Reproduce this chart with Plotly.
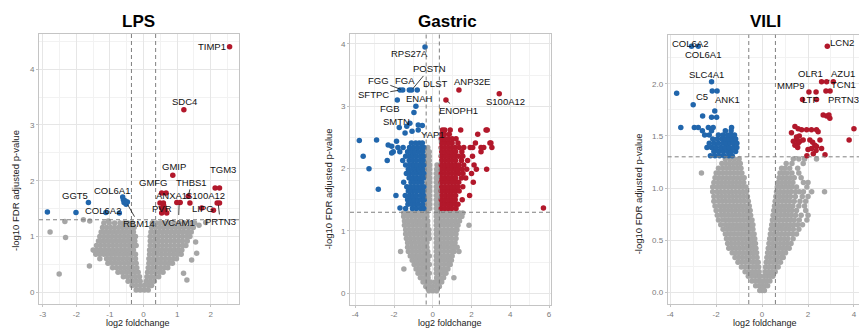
import plotly.graph_objects as go

# ===================== DATA =====================
# ---- LPS ----
lps_grey_rows = [
    (0.04, [-0.22, -0.1, 0.02, 0.14]),
    (0.12, [-0.34, -0.22, -0.1, 0.02, 0.14, 0.24]),
    (0.20, [-0.46, -0.34, -0.22, -0.1, 0.08, 0.2, 0.32]),
    (0.28, [-0.6, -0.48, -0.36, -0.24, -0.12, 0.1, 0.22, 0.34, 0.45]),
    (0.36, [-0.76, -0.64, -0.52, -0.4, -0.28, -0.16, 0.12, 0.24, 0.36, 0.48, 0.58]),
    (0.44, [-0.92, -0.8, -0.68, -0.56, -0.44, -0.32, -0.2, 0.14, 0.26, 0.38, 0.5, 0.62, 0.72]),
    (0.52, [-1.06, -0.94, -0.82, -0.7, -0.58, -0.46, -0.34, -0.22, 0.16, 0.28, 0.4, 0.52, 0.64, 0.76, 0.86]),
    (0.60, [-1.3, -1.1, -0.98, -0.86, -0.74, -0.62, -0.5, -0.38, -0.24, 0.16, 0.28, 0.4, 0.52, 0.64, 0.76, 0.88, 0.98]),
    (0.68, [-1.42, -1.3, -1.18, -1.06, -0.94, -0.82, -0.7, -0.58, -0.46, -0.34, -0.24, 0.18, 0.3, 0.42, 0.54, 0.66, 0.78, 0.9, 1.02, 1.12]),
    (0.76, [-1.5, -1.38, -1.26, -1.14, -1.02, -0.9, -0.78, -0.66, -0.54, -0.42, -0.3, 0.18, 0.3, 0.42, 0.54, 0.66, 0.78, 0.9, 1.02, 1.14]),
    (0.84, [-1.4, -1.28, -1.16, -1.04, -0.92, -0.8, -0.68, -0.56, -0.44, -0.32, -0.22, 0.2, 0.32, 0.44, 0.56, 0.68, 0.8, 0.92, 1.04, 1.16, 1.26]),
    (0.92, [-1.34, -1.22, -1.1, -0.98, -0.86, -0.74, -0.62, -0.5, -0.38, -0.26, 0.2, 0.32, 0.44, 0.56, 0.68, 0.8, 0.92, 1.04, 1.16, 1.3]),
    (1.00, [-1.3, -1.18, -1.06, -0.94, -0.82, -0.7, -0.58, -0.46, -0.34, -0.24, 0.2, 0.32, 0.44, 0.56, 0.68, 0.8, 0.92, 1.04, 1.16, 1.28, 1.38]),
    (1.08, [-1.26, -1.14, -1.02, -0.9, -0.78, -0.66, -0.54, -0.42, -0.3, 0.22, 0.34, 0.46, 0.58, 0.7, 0.82, 0.94, 1.06, 1.18, 1.3, 1.42]),
    (1.16, [-1.22, -1.1, -0.98, -0.86, -0.74, -0.62, -0.5, -0.38, -0.28, 0.24, 0.36, 0.48, 0.6, 0.72, 0.84, 0.96, 1.08, 1.2, 1.34, 1.48]),
    (1.24, [-1.18, -1.02, -0.86, -0.7, -0.58, -0.46, -0.34, 0.26, 0.38, 0.5, 0.62, 0.74, 0.9, 1.06, 1.22, 1.4, 1.52]),
]
lps_grey_extra_x = [-2.78, -2.32, -2.51, -2.34, -1.79, -1.61, -1.44, -1.05, -1.6, 1.29, 1.43, 1.58, 1.19, 1.65, 1.85, 1.55]
lps_grey_extra_y = [1.08, 0.98, 0.33, 1.27, 1.30, 0.47, 0.73, 1.28, 1.28, 0.22, 0.58, 0.70, 0.34, 1.20, 1.25, 0.90]
lps_blue_x = [-2.86, -2.01, -1.64, -1.12, -0.72, -0.62, -0.60, -0.58, -0.52, -0.48, -0.55]
lps_blue_y = [1.44, 1.43, 1.61, 1.43, 1.42, 1.71, 1.66, 1.61, 1.58, 1.62, 1.64]
lps_red_x = [2.56, 1.20, 0.87, 2.13, 2.26, 1.33, 1.38, 0.54, 0.67, 0.49, 0.59, 0.54, 0.64, 0.54, 0.69, 0.60,
             0.99, 1.09, 1.73, 2.08, 2.19, 2.26]
lps_red_y = [4.40, 3.27, 2.10, 1.87, 1.87, 1.72, 1.60, 1.78, 1.78, 1.60, 1.60, 1.51, 1.48, 1.42, 1.42, 1.55,
             1.61, 1.61, 1.51, 1.47, 1.60, 1.60]
lps_labels = ['TIMP1', 'SDC4', 'GMIP', 'TGM3', 'THBS1', 'GMFG', 'ANXA1', 'S100A12', 'COL6A1', 'GGT5',
              'COL6A2', 'RBM14', 'PVR', 'VCAM1', 'LIPG', 'PRTN3']

# ---- Gastric ----
gas_grey_rows = [
    (0.04, [-0.2, 0.0, 0.2]),
    (0.11, [-0.36, -0.18, 0.0, 0.18, 0.34]),
    (0.18, [-0.5, -0.3, -0.12, 0.12, 0.3, 0.46]),
    (0.25, [-0.64, -0.44, -0.24, 0.2, 0.4, 0.56, 1.09]),
    (0.32, [-0.76, -0.56, -0.36, -0.18, 0.18, 0.36, 0.56, 0.68]),
    (0.39, [-1.49, -0.86, -0.66, -0.46, -0.26, 0.18, 0.38, 0.58, 0.78]),
    (0.46, [-0.96, -0.76, -0.56, -0.36, -0.18, 0.18, 0.38, 0.58, 0.78, 0.9]),
    (0.53, [-1.06, -0.86, -0.66, -0.46, -0.26, 0.18, 0.38, 0.58, 0.78, 0.96]),
    (0.60, [-1.16, -0.96, -0.76, -0.56, -0.36, -0.18, 0.18, 0.38, 0.58, 0.78, 1.0]),
    (0.67, [-1.66, -1.26, -1.06, -0.86, -0.66, -0.46, -0.26, 0.18, 0.38, 0.58, 0.78, 0.98, 1.1, 1.35]),
    (0.74, [-1.3, -1.1, -0.9, -0.7, -0.5, -0.3, 0.18, 0.38, 0.58, 0.78, 0.98, 1.15, 1.26]),
    (0.81, [-1.3, -1.1, -0.9, -0.7, -0.5, -0.3, 0.18, 0.38, 0.58, 0.78, 0.98, 1.15]),
    (0.88, [-1.36, -1.16, -0.96, -0.76, -0.56, -0.36, -0.18, 0.18, 0.38, 0.58, 0.78, 0.98, 1.2]),
    (0.95, [-1.4, -1.2, -1.0, -0.8, -0.6, -0.4, -0.2, 0.18, 0.38, 0.58, 0.78, 0.98, 1.2]),
    (1.02, [-1.4, -1.2, -1.0, -0.8, -0.6, -0.4, -0.2, 0.18, 0.38, 0.58, 0.78, 0.98, 1.18, 1.25]),
    (1.09, [-1.46, -1.26, -1.06, -0.86, -0.66, -0.46, -0.26, 0.18, 0.38, 0.58, 0.78, 0.98, 1.18, 1.3, 1.87]),
    (1.16, [-1.46, -1.26, -1.06, -0.86, -0.66, -0.46, -0.26, 0.18, 0.38, 0.58, 0.78, 0.98, 1.18, 1.38]),
    (1.23, [-1.5, -1.3, -1.1, -0.9, -0.7, -0.5, -0.3, 0.18, 0.38, 0.58, 0.78, 0.98, 1.18, 1.38, 1.5]),
    (1.29, [-1.5, -1.3, -1.1, -0.9, -0.7, -0.5, -0.3, 0.18, 0.38, 0.58, 0.78, 0.98, 1.18, 1.38, 1.55]),
    (1.36, [-0.3, -0.16, 0.18, 0.3]),
    (1.43, [-0.3, -0.16, 0.18, 0.3]),
    (1.50, [-0.3, -0.16, 0.18, 0.3]),
    (1.57, [-0.3, -0.16, 0.18, 0.3]),
    (1.64, [-0.3, -0.16, 0.18, 0.3]),
    (1.71, [-0.3, -0.16, 0.18, 0.3]),
    (1.78, [-0.3, -0.16, 0.18, 0.3]),
    (1.85, [-0.3, -0.16, 0.18, 0.3]),
    (1.92, [-0.3, -0.16, 0.18, 0.3]),
    (1.99, [-0.3, -0.16, 0.2, 0.3]),
    (2.06, [-0.3, -0.16, 0.22]),
    (2.13, [-0.3, -0.18]),
    (2.20, [-0.28, -0.18]),
    (2.27, [-0.28, -0.18]),
    (2.34, [-0.26]),
]
gas_blue_rows = [
    (1.36, [-1.4, -1.05, -0.85, -0.62, -0.46]),
    (1.43, [-1.28, -1.1, -0.92, -0.74, -0.52]),
    (1.50, [-1.3, -1.12, -0.94, -0.76, -0.58, -0.44]),
    (1.57, [-1.9, -1.42, -1.2, -1.02, -0.84, -0.62, -0.47]),
    (1.64, [-1.26, -1.08, -0.9, -0.7, -0.5]),
    (1.71, [-1.34, -1.16, -0.98, -0.8, -0.62, -0.46]),
    (1.78, [-1.5, -1.12, -0.94, -0.76, -0.56]),
    (1.85, [-1.22, -1.04, -0.86, -0.68, -0.48]),
    (1.92, [-1.36, -1.18, -1.0, -0.82, -0.62, -0.46]),
    (1.99, [-1.26, -1.06, -0.88, -0.72, -0.52]),
    (2.06, [-1.4, -1.16, -0.98, -0.8, -0.62, -0.46]),
    (2.13, [-2.35, -1.55, -1.22, -1.04, -0.86, -0.66, -0.5]),
    (2.20, [-1.4, -1.2, -1.02, -0.84, -0.64, -0.47]),
    (2.27, [-2.04, -1.7, -1.3, -1.1, -0.92, -0.72, -0.52]),
    (2.34, [-1.8, -1.53, -1.2, -1.0, -0.8, -0.6, -0.46]),
    (2.41, [-1.1, -0.88, -0.7, -0.54]),
]
gas_blue_extra_x = [-3.79, -2.9, -3.59, -3.29, -2.81, -2.3, -2.12, -2.12, -1.69, -1.83, -1.69, -1.55, -1.21,
                    -1.09, -0.8, -0.4, -0.87, -0.97, -1.73, -1.34, -1.18, -0.75, -0.54, -1.43, -1.07, -0.75, -1.87]
gas_blue_extra_y = [2.45, 2.46, 2.2, 2.0, 1.67, 2.38, 2.36, 2.25, 1.37, 3.1, 3.26, 3.26, 3.26,
                    3.26, 3.26, 3.95, 3.0, 2.9, 2.66, 2.68, 2.73, 2.7, 2.69, 2.57, 2.6, 2.62, 2.44]
gas_red_rows = [
    (1.36, [0.44, 0.62, 0.8, 0.98, 1.2]),
    (1.43, [0.46, 0.64, 0.82, 0.98, 1.14, 1.3]),
    (1.50, [0.44, 0.62, 0.8, 0.98, 1.16, 1.52]),
    (1.57, [0.48, 0.66, 0.84, 1.0, 1.18, 1.9]),
    (1.64, [0.44, 0.62, 0.8, 0.98, 1.16, 1.36]),
    (1.71, [0.46, 0.64, 0.82, 0.98, 1.14, 1.3, 1.55]),
    (1.78, [0.44, 0.62, 0.8, 0.98, 1.16, 1.34, 2.09]),
    (1.85, [0.46, 0.64, 0.82, 1.0, 1.18, 1.48, 1.7]),
    (1.92, [0.44, 0.62, 0.8, 0.98, 1.16, 1.34, 1.56, 2.0]),
    (1.99, [0.46, 0.64, 0.82, 1.0, 1.18, 1.3, 1.5, 1.75, 2.25, 2.78]),
    (2.06, [0.44, 0.62, 0.8, 0.98, 1.16, 1.34, 1.6, 2.13]),
    (2.13, [0.46, 0.64, 0.82, 1.0, 1.18, 1.48, 1.8]),
    (2.20, [0.44, 0.62, 0.8, 0.98, 1.16, 1.34, 1.55, 2.05]),
    (2.27, [0.46, 0.64, 0.82, 1.0, 1.18, 1.5, 2.49]),
    (2.34, [0.44, 0.62, 0.8, 0.98, 1.16, 1.36, 1.6, 1.93, 2.06, 2.49, 2.63, 3.05]),
    (2.41, [0.46, 0.64, 0.82, 1.0, 1.3, 2.2, 2.95, 3.0]),
    (2.48, [0.44, 0.62, 0.8, 1.0, 1.2]),
    (2.55, [0.46, 0.6, 0.85, 2.32]),
    (2.62, [0.5, 0.62, 0.9, 1.44, 2.75, 2.81]),
]
gas_red_extra_x = [1.35, 3.43, 0.68, 5.71]
gas_red_extra_y = [3.26, 3.20, 3.10, 1.37]
gas_labels = ['RPS27A', 'POSTN', 'FGG', 'FGA', 'DLST', 'ANP32E', 'SFTPC', 'ENAH', 'S100A12', 'ENOPH1',
              'FGB', 'SMTN', 'YAP1']

# ---- VILI ----
vili_grey_rows = [
    (0.02, [-0.1, 0.0, 0.1]),
    (0.065, [-0.28, -0.14, -0.03, 0.04, 0.14, 0.24]),
    (0.11, [-0.44, -0.3, -0.16, -0.06, 0.07, 0.2, 0.34]),
    (0.155, [-0.6, -0.45, -0.3, -0.16, -0.08, 0.1, 0.22, 0.35, 0.47]),
    (0.2, [-0.74, -0.58, -0.42, -0.28, -0.13, 0.13, 0.28, 0.43, 0.57]),
    (0.245, [-0.9, -0.74, -0.58, -0.42, -0.28, -0.15, 0.15, 0.3, 0.45, 0.6, 0.7]),
    (0.29, [-1.05, -0.88, -0.72, -0.56, -0.4, -0.26, -0.17, 0.18, 0.32, 0.48, 0.64, 0.8]),
    (0.335, [-1.18, -1.02, -0.86, -0.7, -0.54, -0.38, -0.22, 0.21, 0.36, 0.52, 0.68, 0.84, 0.92]),
    (0.38, [-1.3, -1.14, -0.98, -0.82, -0.66, -0.5, -0.36, -0.24, 0.24, 0.4, 0.56, 0.72, 0.88, 1.02]),
    (0.425, [-1.45, -1.3, -1.14, -0.98, -0.82, -0.66, -0.5, -0.38, -0.27, 0.27, 0.42, 0.58, 0.74, 0.9, 1.05, 1.18]),
    (0.47, [-1.5, -1.34, -1.18, -1.02, -0.86, -0.7, -0.54, -0.4, -0.29, 0.3, 0.46, 0.62, 0.78, 0.94, 1.1, 1.26]),
    (0.515, [-1.55, -1.38, -1.22, -1.06, -0.9, -0.74, -0.58, -0.44, -0.32, 0.33, 0.48, 0.64, 0.8, 0.96, 1.12, 1.35]),
    (0.56, [-1.6, -1.44, -1.28, -1.12, -0.96, -0.8, -0.64, -0.48, -0.35, 0.36, 0.52, 0.68, 0.84, 1.0, 1.16, 1.32, 1.5]),
    (0.605, [-1.7, -1.52, -1.36, -1.2, -1.04, -0.88, -0.72, -0.56, -0.4, 0.39, 0.54, 0.7, 0.86, 1.02, 1.18, 1.36, 1.6]),
    (0.65, [-1.8, -1.6, -1.44, -1.28, -1.12, -0.96, -0.8, -0.64, -0.5, -0.4, 0.42, 0.58, 0.74, 0.9, 1.06, 1.22, 1.38, 1.55, 1.76]),
    (0.695, [-1.9, -1.7, -1.54, -1.38, -1.22, -1.06, -0.9, -0.74, -0.58, -0.44, 0.45, 0.6, 0.76, 0.92, 1.08, 1.24, 1.4, 1.62, 1.95]),
    (0.74, [-1.95, -1.78, -1.62, -1.46, -1.3, -1.14, -0.98, -0.82, -0.66, -0.5, 0.48, 0.64, 0.8, 0.96, 1.12, 1.28, 1.46, 1.7, 2.0]),
    (0.785, [-2.0, -1.8, -1.64, -1.48, -1.32, -1.16, -1.0, -0.84, -0.68, -0.52, 0.51, 0.66, 0.82, 0.98, 1.14, 1.3, 1.5, 1.9]),
    (0.83, [-2.05, -1.86, -1.7, -1.54, -1.38, -1.22, -1.06, -0.9, -0.74, -0.56, 0.54, 0.7, 0.86, 1.02, 1.18, 1.34, 1.6, 1.85]),
    (0.875, [-2.1, -1.9, -1.74, -1.58, -1.42, -1.26, -1.1, -0.94, -0.78, -0.6, 0.57, 0.72, 0.88, 1.04, 1.2, 1.4, 1.65, 1.9]),
    (0.92, [-2.1, -1.92, -1.76, -1.6, -1.44, -1.28, -1.12, -0.96, -0.8, -0.64, 0.6, 0.76, 0.92, 1.08, 1.24, 1.45, 1.75, 2.0]),
    (0.965, [-2.15, -1.96, -1.8, -1.64, -1.48, -1.32, -1.16, -1.0, -0.84, -0.68, 0.63, 0.78, 0.94, 1.1, 1.26, 1.45, 1.62, 1.8, 2.16, 2.72]),
    (1.01, [-2.15, -1.96, -1.8, -1.64, -1.48, -1.32, -1.16, -1.0, -0.84, -0.7, 0.66, 0.82, 0.98, 1.14, 1.3, 1.5, 1.95]),
    (1.055, [-2.1, -1.92, -1.76, -1.6, -1.44, -1.28, -1.12, -0.96, -0.8, 0.7, 0.86, 1.02, 1.18, 1.34, 1.8, 2.0]),
    (1.1, [-2.05, -1.88, -1.72, -1.56, -1.4, -1.24, -1.08, -0.92, -0.78, 0.74, 0.9, 1.06, 1.22, 1.4, 1.7]),
    (1.145, [-2.64, -2.0, -1.84, -1.68, -1.52, -1.36, -1.2, -1.04, -0.88, 0.78, 0.94, 1.1, 1.3, 1.6]),
    (1.19, [-1.9, -1.72, -1.56, -1.4, -1.24, -1.08, -0.92, 0.85, 1.0, 1.2, 1.55]),
    (1.235, [-1.75, -1.58, -1.42, -1.26, -1.1, -0.95, 1.05, 1.3, 1.79]),
    (1.28, [-1.6, -1.4, -1.2, -1.0, 1.36, 1.6, 1.85, 2.37]),
]
vili_blue_rows = [
    (1.31, [-2.25, -2.05, -1.85, -1.65, -1.45, -1.3]),
    (1.35, [-2.1, -1.9, -1.7, -1.5, -1.35, -1.15]),
    (1.39, [-2.4, -2.2, -2.0, -1.8, -1.6, -1.45, -1.25, -1.1]),
    (1.43, [-2.3, -2.1, -1.9, -1.7, -1.55, -1.4, -1.25, -1.1]),
    (1.47, [-2.15, -1.95, -1.75, -1.6, -1.45, -1.3, -1.15]),
    (1.51, [-2.5, -2.3, -1.9, -1.7, -1.5, -1.35, -1.2]),
    (1.55, [-2.6, -2.2, -1.6, -1.35]),
    (1.58, [-3.54, -2.95, -2.78, -2.34, -2.13, -1.33]),
]
vili_blue_extra_x = [-3.07, -2.78, -2.2, -3.72, -2.17, -1.96, -3.0, -2.06, -2.59, -2.2, -1.98]
vili_blue_extra_y = [2.36, 2.36, 2.02, 1.91, 1.93, 1.93, 1.80, 1.74, 1.69, 1.68, 1.68]
vili_red_x = [1.43, 1.57, 1.72, 1.94, 2.15, 2.37, 2.44, 1.28, 1.5, 1.65, 1.79, 2.08, 2.52, 2.3, 2.15, 2.37,
              2.59, 2.74, 1.57, 1.43, 2.0, 2.23, 1.5, 1.36, 1.55, 2.2, 1.95, 2.35, 1.62,
              2.84, 2.59, 2.81, 3.10, 2.04, 2.35, 2.78, 2.96, 1.76, 2.37, 2.81, 2.95, 2.66, 2.91, 3.79, 4.0]
vili_red_y = [1.59, 1.57, 1.56, 1.56, 1.56, 1.56, 1.54, 1.53, 1.46, 1.45, 1.46, 1.46, 1.46, 1.41, 1.38, 1.40,
              1.38, 1.32, 1.43, 1.41, 1.37, 1.33, 1.49, 1.45, 1.39, 1.44, 1.31, 1.36, 1.50,
              2.36, 2.02, 2.02, 2.02, 1.92, 1.92, 1.93, 1.93, 1.85, 1.85, 1.69, 1.67, 1.70, 1.70, 1.46, 1.57]
vili_labels = ['COL6A2', 'COL6A1', 'SLC4A1', 'C5', 'ANK1', 'LCN2', 'OLR1', 'AZU1', 'MMP9', 'TCN1', 'LTF', 'PRTN3']

# tick labels
lps_xticks = [-3, -2, -1, 0, 1, 2]
lps_xtick_text = ['-3', '-2', '-1', '0', '1', '2']
lps_yticks = [0, 1, 2, 3, 4]
gas_xticks = [-4, -2, 0, 2, 4, 6]
gas_xtick_text = ['-4', '-2', '0', '2', '4', '6']
gas_yticks = [0, 1, 2, 3, 4]
vili_xticks = [-4, -2, 0, 2, 4]
vili_xtick_text = ['-4', '-2', '0', '2', '4']
vili_yticks = [0.0, 0.5, 1.0, 1.5, 2.0]
vili_ytick_text = ['0.0', '0.5', '1.0', '1.5', '2.0']

# thresholds
lps_fc_cut = 0.36
gas_fc_cut = 0.34
vili_fc_cut = 0.58
p_cut = 1.3


def expand(rows):
    xs, ys = [], []
    for yv, row in rows:
        for xv in row:
            xs.append(xv)
            ys.append(yv)
    return xs, ys


# ===================== STYLE / LAYOUT =====================
GREY = '#a6a6a6'
BLUE = '#2166ac'
RED = '#b2182b'
MS = 5.5
FONT = 'Liberation Sans, Arial, sans-serif'

fig = go.Figure()


def add_pts(xs, ys, color, ax):
    fig.add_trace(go.Scatter(x=xs, y=ys, mode='markers', xaxis='x' + ax, yaxis='y' + ax,
                             marker=dict(size=MS, color=color, line=dict(width=0)),
                             hoverinfo='skip', showlegend=False))


gx, gy = expand(lps_grey_rows)
add_pts(gx + lps_grey_extra_x, gy + lps_grey_extra_y, GREY, '')
add_pts(lps_blue_x, lps_blue_y, BLUE, '')
add_pts(lps_red_x, lps_red_y, RED, '')

gx, gy = expand(gas_grey_rows)
add_pts(gx, gy, GREY, '2')
bx, by = expand(gas_blue_rows)
add_pts(bx + gas_blue_extra_x, by + gas_blue_extra_y, BLUE, '2')
rx, ry = expand(gas_red_rows)
add_pts(rx + gas_red_extra_x, ry + gas_red_extra_y, RED, '2')

gx, gy = expand(vili_grey_rows)
add_pts(gx, gy, GREY, '3')
bx, by = expand(vili_blue_rows)
add_pts(bx + vili_blue_extra_x, by + vili_blue_extra_y, BLUE, '3')
add_pts(vili_red_x, vili_red_y, RED, '3')

W, H = 859, 328


def px_x(a):
    return a / W


def px_y(b):
    return (H - b) / H


def axis(domain, rng, tickvals, ticktext, minor_dtick, anchor):
    return dict(domain=domain, range=rng, tickvals=tickvals, ticktext=ticktext,
                showgrid=True, gridcolor='#e6e6e6', gridwidth=0.8,
                minor=dict(showgrid=True, dtick=minor_dtick, gridcolor='#f2f2f2', gridwidth=0.5, ticks=''),
                zeroline=False, showline=True, mirror=True, linecolor='#c4c4c4', linewidth=1,
                ticks='outside', ticklen=2, tickcolor='#c4c4c4', tickwidth=0.8,
                tickfont=dict(size=8, color='#7a7a7a', family=FONT), anchor=anchor, fixedrange=True)


ydom_lps = [px_y(304), px_y(34)]
ydom_gas = [px_y(304.5), px_y(34)]
ydom_vili = [px_y(304), px_y(34.7)]

layout = dict(
    width=W, height=H, margin=dict(l=0, r=0, t=0, b=0, autoexpand=False),
    paper_bgcolor='white', plot_bgcolor='white', showlegend=False,
    font=dict(family=FONT),
    xaxis=axis([px_x(39), px_x(239)], [-3.11, 2.84], lps_xticks, lps_xtick_text, 0.5, 'y'),
    yaxis=axis(ydom_lps, [-0.21, 4.63], lps_yticks, [str(v) for v in lps_yticks], 0.5, 'x'),
    xaxis2=axis([px_x(350), px_x(551)], [-4.27, 6.1], gas_xticks, gas_xtick_text, 1, 'y2'),
    yaxis2=axis(ydom_gas, [-0.18, 4.16], gas_yticks, [str(v) for v in gas_yticks], 0.5, 'x2'),
    xaxis3=axis([px_x(667.7), 1.0], [-4.11, 4.22], vili_xticks, vili_xtick_text, 1, 'y3'),
    yaxis3=axis(ydom_vili, [-0.11, 2.47], vili_yticks, vili_ytick_text, 0.25, 'x3'),
)
fig.update_layout(**layout)

# threshold dashed lines
shapes = []
for ax, cut in (('', lps_fc_cut), ('2', gas_fc_cut), ('3', vili_fc_cut)):
    for v in (-cut, cut):
        shapes.append(dict(type='line', xref='x' + ax, yref='y' + ax + ' domain', x0=v, x1=v, y0=0, y1=1,
                           line=dict(color='#7f7f7f', width=1, dash='4px,3px'), layer='above'))
    shapes.append(dict(type='line', xref='x' + ax + ' domain', yref='y' + ax, x0=0, x1=1, y0=p_cut, y1=p_cut,
                       line=dict(color='#7f7f7f', width=1, dash='4px,3px'), layer='above'))
fig.update_layout(shapes=shapes)

ann = []
# titles
for t, cx in (('LPS', 138), ('Gastric', 448), ('VILI', 765)):
    ann.append(dict(text='<b>%s</b>' % t, xref='paper', yref='paper', x=px_x(cx), y=px_y(21.5),
                    xanchor='center', yanchor='middle',
                    showarrow=False, font=dict(size=17, color='black', family=FONT)))
# axis titles
for cx, cy in ((138, 323), (450, 323), (765, 323)):
    ann.append(dict(text='log2 foldchange', xref='paper', yref='paper', x=px_x(cx), y=px_y(cy),
                    xanchor='center', yanchor='middle',
                    showarrow=False, font=dict(size=9, color='#222', family=FONT)))
for cx, cy in ((15, 191), (328.3, 189), (638.3, 194)):
    ann.append(dict(text='-log10 FDR adjusted p-value', xref='paper', yref='paper', x=px_x(cx), y=px_y(cy),
                    xanchor='center', yanchor='middle',
                    textangle=-90, showarrow=False, font=dict(size=9.5, color='#222', family=FONT)))

lps_label_pos = [(2.03, 4.40), (1.21, 3.42), (0.91, 2.26), (2.35, 2.21), (1.43, 1.97), (0.31, 1.97),
                 (0.84, 1.73), (1.83, 1.73), (-0.93, 1.82), (-2.04, 1.73), (-1.21, 1.46), (-0.15, 1.23),
                 (0.56, 1.50), (1.04, 1.26), (1.77, 1.50), (2.28, 1.27)]
lps_label_tip = {'THBS1': (1.33, 1.72), 'RBM14': (-0.5, 1.6), 'VCAM1': (1.06, 1.61), 'PRTN3': (2.22, 1.6)}
gas_label_pos = [(-1.18, 3.84), (-0.18, 3.6), (-2.81, 3.41), (-1.43, 3.41), (0.11, 3.36), (2.0, 3.4),
                 (-3.07, 3.19), (-0.66, 3.13), (3.73, 3.08), (1.32, 2.93), (-2.21, 2.97), (-1.86, 2.76),
                 (0.0, 2.54)]
gas_label_tip = {'POSTN': (-1.09, 3.26), 'FGG': (-1.55, 3.26), 'SFTPC': (-1.69, 3.26),
                 'ENOPH1': (0.68, 3.1), 'YAP1': (-0.75, 2.62)}
vili_label_pos = [(-3.14, 2.39), (-2.56, 2.28), (-2.42, 2.09), (-2.61, 1.88), (-1.5, 1.85), (3.46, 2.40),
                  (2.11, 2.10), (3.53, 2.10), (1.25, 1.98), (3.53, 1.99), (2.08, 1.85), (3.53, 1.85)]
vili_label_tip = {'AZU1': (2.81, 2.02)}

for ax, labels, pos, tips in (('', lps_labels, lps_label_pos, lps_label_tip),
                              ('2', gas_labels, gas_label_pos, gas_label_tip),
                              ('3', vili_labels, vili_label_pos, vili_label_tip)):
    for name, (tx, ty) in zip(labels, pos):
        f = dict(size=9.5, color='#111', family=FONT)
        if name in tips:
            px_, py_ = tips[name]
            ann.append(dict(text=name, xref='x' + ax, yref='y' + ax, x=px_, y=py_,
                            axref='x' + ax, ayref='y' + ax, ax=tx, ay=ty, showarrow=True,
                            arrowhead=0, arrowwidth=0.8, arrowcolor='#111', standoff=2, font=f))
        else:
            ann.append(dict(text=name, xref='x' + ax, yref='y' + ax, x=tx, y=ty,
                            xanchor='center', yanchor='middle', showarrow=False, font=f))

fig.update_layout(annotations=ann)
fig.write_html('out.html')
